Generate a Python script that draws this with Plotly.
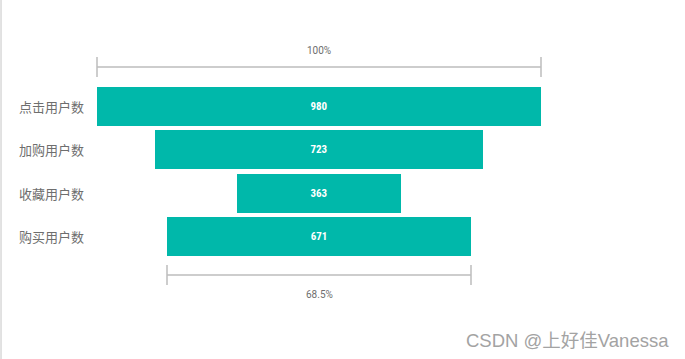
import plotly.graph_objects as go

stages = ["点击用户数", "加购用户数", "收藏用户数", "购买用户数"]
values = [980, 723, 363, 671]
top_label = "100%"
bottom_label = "68.5%"
watermark = "CSDN @上好佳Vanessa"

W, H = 685, 359
BAR_COLOR = "#00B8AA"
GREY_LINE = "#BDBDBD"
TEXT_GREY = "#6E6E6E"

pos = list(range(len(values)))
half = [v / 2 for v in values]

fig = go.Figure()
fig.add_trace(go.Bar(
    y=pos,
    x=values,
    base=[-h for h in half],
    orientation="h",
    width=0.9,
    marker=dict(color=BAR_COLOR, line=dict(width=0)),
    text=[str(v) for v in values],
    textposition="inside",
    insidetextanchor="middle",
    textangle=0,
    textfont=dict(color="white", size=11, family="Roboto Condensed, Roboto, Arial", weight="bold"),
    hoverinfo="skip",
    showlegend=False,
))

# scale: first bar spans pixel 97..541
px_per_unit = (541 - 97) / values[0]
x0 = -values[0] / 2 - 97 / px_per_unit
x1 = values[0] / 2 + (W - 541) / px_per_unit

row_px = 43.33
first_px = 106.5
def ypix(p):
    return (p - first_px) / row_px

y_top = ypix(0)
y_bot = ypix(H)

shapes = []
def bracket(xa, xb, yline, ytick0, ytick1):
    shapes.append(dict(type="line", x0=xa, x1=xb, y0=yline, y1=yline, line=dict(color=GREY_LINE, width=1.5)))
    for xx in (xa, xb):
        shapes.append(dict(type="line", x0=xx, x1=xx, y0=ytick0, y1=ytick1, line=dict(color=GREY_LINE, width=1.5)))

first, last = values[0], values[-1]
bracket(-first / 2, first / 2, ypix(67), ypix(57), ypix(77))
bracket(-last / 2, last / 2, ypix(275), ypix(265), ypix(285))

# left border line
shapes.append(dict(type="line", xref="paper", yref="paper", x0=0.0015, x1=0.0015, y0=0, y1=1,
                   line=dict(color="#D9D9D9", width=1.5)))

annotations = [
    dict(x=0, y=ypix(50), text=top_label, showarrow=False, font=dict(size=10, color=TEXT_GREY, family="Roboto, Arial")),
    dict(x=0, y=ypix(294), text=bottom_label, showarrow=False, font=dict(size=10, color=TEXT_GREY, family="Roboto, Arial")),
    dict(xref="paper", yref="paper", x=671 / W, y=1 - 340 / H, xanchor="right", yanchor="middle",
         text=watermark, showarrow=False,
         font=dict(size=18.5, color="#A3A3A3", family="Liberation Sans, Noto Sans CJK SC")),
]
for p, s in zip(pos, stages):
    annotations.append(dict(xref="paper", x=17 / W, y=p, xanchor="left", yanchor="middle", text=s,
                            showarrow=False, font=dict(size=13, color=TEXT_GREY, family="Noto Sans CJK SC")))

fig.update_layout(
    width=W, height=H,
    margin=dict(l=0, r=0, t=0, b=0),
    paper_bgcolor="white", plot_bgcolor="white",
    xaxis=dict(range=[x0, x1], visible=False, fixedrange=True),
    yaxis=dict(range=[y_bot, y_top], visible=False, fixedrange=True),
    shapes=shapes,
    annotations=annotations,
    bargap=0,
)

fig.write_html("out.html", config={"displayModeBar": False},
               post_script="document.body.style.margin='0';document.body.style.overflow='hidden';")
